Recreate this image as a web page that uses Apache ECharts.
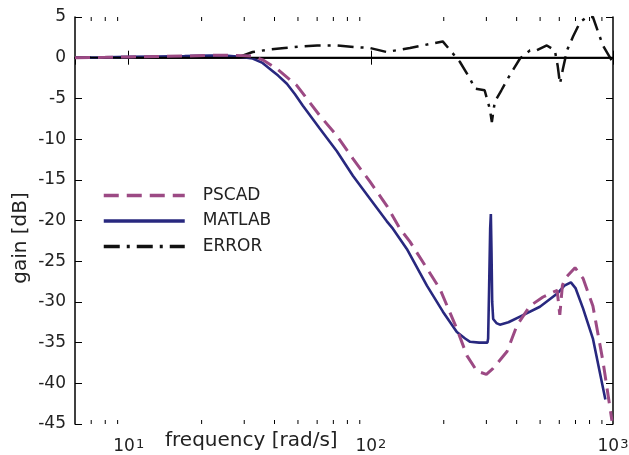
<!DOCTYPE html>
<html>
<head>
<meta charset="utf-8">
<script src="https://cdn.jsdelivr.net/npm/echarts@6/dist/echarts.min.js"></script>
<style>
  html, body { margin: 0; padding: 0; background: #fff; }
  #gain_chart { width: 629px; height: 455px; }
</style>
</head>
<body>
<div id="gain_chart"></div>
<script>
// frequency axis range (rad/s) and gain range (dB)
let freqMin = 6;
let freqMax = 1000;
let gainMin = -45;
let gainMax = 5;

// minor tick positions on the log axis
let minorTicks = [7, 8, 9, 20, 30, 40, 50, 60, 70, 80, 90, 200, 300, 400, 500, 600, 700, 800, 900];

// PSCAD simulation (dashed)
let pscadFreq = [6, 8, 10, 13, 17, 21.6, 27, 32.5, 36, 40.9, 49.4, 61.5, 72.4, 84.3, 99, 116.4, 131.8, 145,
    192.8, 226.5, 249.3, 274, 300, 319, 365, 401, 454, 514, 575, 588, 603, 618, 634, 697, 752, 826, 909, 990];
let pscadGain = [0, 0.05, 0.1, 0.15, 0.2, 0.3, 0.3, 0.2, -0.3, -1.35, -3.4, -7.1, -9.6, -12.4, -15.2, -18.2, -21, -22.6,
    -28.4, -33.3, -36.6, -38.5, -38.9, -38.2, -36.1, -32.9, -30.5, -29.4, -28.7, -28.6, -31.6, -28.0, -27.1, -25.8, -27.1, -30.5, -37.3, -44.6];

// MATLAB model (solid)
let matlabFreq = [6, 8, 10, 13, 17, 21.6, 25, 28, 30.2, 32.5, 35.5, 38.2, 41.4, 45, 48.6, 52.4, 61.5, 72.4, 84.3, 99, 116.4, 123.3,
    140.8, 170.4, 198.4, 226.5, 245, 257, 280, 303, 305, 308, 311, 313, 315, 317, 320, 330, 341, 370, 413, 499, 587,
    630, 670, 700, 752, 826, 930];
let matlabGain = [0, 0.05, 0.1, 0.15, 0.2, 0.25, 0.25, 0.15, 0.02, -0.1, -0.6, -1.35, -2.2, -3.2, -4.5, -5.9, -8.7, -11.5, -14.5, -17.3, -20.1, -21,
    -23.5, -28, -31.2, -33.7, -34.5, -34.9, -35, -35, -34.5, -28, -21, -19.2, -24, -30, -32.1, -32.6, -32.8, -32.5, -31.8, -30.6, -29,
    -28, -27.6, -28.3, -30.8, -34.5, -42];

// ERROR (dash-dot)
let errorFreq = [6, 10, 20, 28, 32.5, 38, 44, 50, 60, 72, 85, 99, 116, 145, 198, 233, 257, 269, 295, 310, 316, 325,
    346, 374, 413, 454, 484, 533, 575, 591, 604, 621, 646, 684, 732, 781, 826, 867, 909, 990, 1000];
let errorGain = [0, 0, 0.05, 0, 0.7, 1.0, 1.2, 1.35, 1.5, 1.5, 1.3, 1.2, 0.7, 1.2, 2.0, -0.5, -2.6, -3.8, -4.0, -6.3, -7.9, -5.4,
    -4.0, -2.2, -0.1, 0.9, 0.9, 1.5, 0.9, -1.0, -3.2, -1.4, 0.9, 2.6, 4.4, 5.0, 5.0, 3.2, 1.5, -0.4, -0.6];

function zip(xs, ys) {
    let list = [];
    for (let i = 0; i < xs.length; i++) {
        list.push([xs[i], ys[i]]);
    }
    return list;
}

let fontName = '"DejaVu Sans", sans-serif';
let textColor = '#222';

let gainChart = echarts.init(document.getElementById('gain_chart'));

let logAxisBase = {
    type: 'log',
    logBase: 10,
    min: freqMin,
    max: freqMax,
    axisLine: { show: true, lineStyle: { color: '#000', width: 1.5 } },
    axisTick: { show: true, inside: true, length: 7, lineStyle: { color: '#000', width: 1 } },
    splitLine: { show: false }
};

let valueAxisBase = {
    type: 'value',
    min: gainMin,
    max: gainMax,
    interval: 5,
    axisLine: { show: true, lineStyle: { color: '#000', width: 1.5 } },
    axisTick: { show: true, inside: true, length: 7, lineStyle: { color: '#000', width: 1 } },
    splitLine: { show: false }
};

let gainChartOptions = {
    animation: false,
    backgroundColor: '#fff',
    grid: {
        left: 75,
        right: 16,
        top: 17,
        bottom: 31,
        containLabel: false,
        outerBoundsMode: 'none'
    },
    legend: {
        orient: 'vertical',
        left: 97,
        top: 182,
        itemWidth: 81,
        itemHeight: 14,
        itemGap: 8.5,
        data: ['PSCAD', 'MATLAB', 'ERROR'],
        lineStyle: { width: 3.5 },
        itemStyle: { opacity: 0 },
        textStyle: {
            fontFamily: fontName,
            fontSize: 17,
            color: textColor,
            lineHeight: 14,
            padding: [0, 0, 0, 13]
        }
    },
    xAxis: [
        Object.assign({}, logAxisBase, {
            position: 'bottom',
            axisLabel: {
                show: true,
                margin: 14,
                showMinLabel: false,
                formatter: function (value) {
                    let e = Math.log10(value);
                    if (Math.abs(e - Math.round(e)) > 1e-6) {
                        return '';
                    }
                    return '{b|10}{sup|' + Math.round(e) + '}';
                },
                rich: {
                    b: {
                        fontFamily: fontName, fontSize: 17, color: textColor,
                        lineHeight: 17, verticalAlign: 'bottom', padding: [11, 0, 0, 0]
                    },
                    sup: {
                        fontFamily: fontName, fontSize: 13, color: textColor,
                        lineHeight: 13, verticalAlign: 'top', padding: [0, 0, 0, 1]
                    }
                }
            }
        }),
        Object.assign({}, logAxisBase, {
            position: 'top',
            axisLabel: { show: false }
        })
    ],
    yAxis: [
        Object.assign({}, valueAxisBase, {
            position: 'left',
            axisLabel: {
                show: true,
                margin: 9,
                fontFamily: fontName,
                fontSize: 17,
                color: textColor
            }
        }),
        Object.assign({}, valueAxisBase, {
            position: 'right',
            axisLabel: { show: false }
        })
    ],
    graphic: [
        {
            type: 'text',
            left: 165,
            top: 431,
            style: { text: 'frequency [rad/s]', fontFamily: fontName, fontSize: 20, fill: textColor }
        },
        {
            type: 'text',
            x: 21,
            y: 238,
            rotation: Math.PI / 2,
            style: {
                text: 'gain [dB]', fontFamily: fontName, fontSize: 20, fill: textColor,
                align: 'center', verticalAlign: 'middle'
            }
        }
    ],
    series: [
        {
            name: 'ERROR',
            type: 'line',
            color: '#111',
            symbol: 'none',
            showSymbol: false,
            lineStyle: { width: 2.5, type: [16, 7, 3, 7], color: '#111' },
            data: zip(errorFreq, errorGain),
            markLine: {
                silent: true,
                symbol: 'none',
                label: { show: false },
                lineStyle: { color: '#000', width: 1.3, type: 'solid' },
                data: [{ yAxis: 0 }]
            },
            z: 3
        },
        {
            name: 'MATLAB',
            type: 'line',
            color: '#28287f',
            symbol: 'none',
            showSymbol: false,
            lineStyle: { width: 2.6, color: '#28287f' },
            data: zip(matlabFreq, matlabGain),
            z: 4
        },
        {
            name: 'PSCAD',
            type: 'line',
            color: '#9c4a84',
            symbol: 'none',
            showSymbol: false,
            lineStyle: { width: 3, type: [15, 8], color: '#9c4a84' },
            data: zip(pscadFreq, pscadGain),
            z: 5
        },
        {
            name: 'minorTicks',
            type: 'custom',
            silent: true,
            z: 6,
            data: minorTicks.map(function (v) { return [v, gainMin]; }),
            encode: { x: 0, y: 1 },
            renderItem: function (params, api) {
                let v = api.value(0);
                let bottom = api.coord([v, gainMin]);
                let top = api.coord([v, gainMax]);
                return {
                    type: 'group',
                    children: [
                        {
                            type: 'line',
                            shape: { x1: bottom[0], y1: bottom[1], x2: bottom[0], y2: bottom[1] - 4 },
                            style: { stroke: '#000', lineWidth: 1 }
                        },
                        {
                            type: 'line',
                            shape: { x1: top[0], y1: top[1], x2: top[0], y2: top[1] + 4 },
                            style: { stroke: '#000', lineWidth: 1 }
                        }
                    ]
                };
            }
        }
    ]
};
gainChart.setOption(gainChartOptions);
</script>
</body>
</html>
